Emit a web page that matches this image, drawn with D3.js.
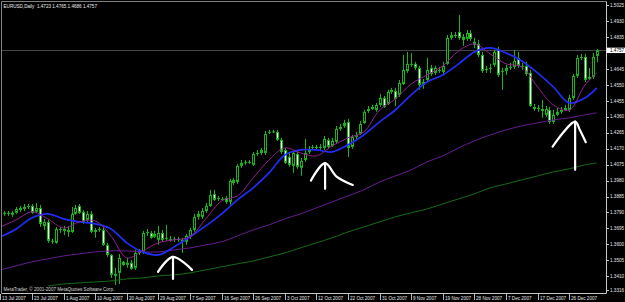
<!DOCTYPE html>
<html>
<head>
<meta charset="utf-8">
<script src="https://cdnjs.cloudflare.com/ajax/libs/d3/7.8.5/d3.min.js"></script>
<style>
html, body { margin: 0; padding: 0; background: #000; }
svg { display: block; }
</style>
</head>
<body>
<svg id="chart" width="625" height="302"></svg>
<script>
// daily EURUSD candles, 13 Jul 2007 .. 2 Jan 2008
const opens = [
    1.3782, 1.3788, 1.3782, 1.3776, 1.3788, 1.3805, 1.3811, 1.3823, 1.3829, 1.3794,
    1.3817, 1.3710, 1.3734, 1.3621, 1.3609, 1.3692, 1.3680, 1.3686, 1.3674, 1.3782,
    1.3829, 1.3794, 1.3746, 1.3782, 1.3674, 1.3686, 1.3686, 1.3597, 1.3537, 1.3412,
    1.3430, 1.3496, 1.3478, 1.3490, 1.3460, 1.3549, 1.3555, 1.3668, 1.3668, 1.3645,
    1.3627, 1.3668, 1.3633, 1.3633, 1.3627, 1.3633, 1.3627, 1.3615, 1.3645, 1.3686,
    1.3764, 1.3764, 1.3799, 1.3829, 1.3901, 1.3871, 1.3871, 1.3877, 1.3853, 1.3984,
    1.3972, 1.4068, 1.4086, 1.4086, 1.4074, 1.4139, 1.4163, 1.4145, 1.4264, 1.4270,
    1.4270, 1.4223, 1.4163, 1.4121, 1.4068, 1.4139, 1.4056, 1.4103, 1.4151, 1.4175,
    1.4181, 1.4175, 1.4175, 1.4223, 1.4187, 1.4211, 1.4288, 1.4306, 1.4330, 1.4181,
    1.4241, 1.4258, 1.4324, 1.4395, 1.4407, 1.4401, 1.4431, 1.4473, 1.4437, 1.4509,
    1.4515, 1.4491, 1.4556, 1.4634, 1.4676, 1.4676, 1.4652, 1.4550, 1.4580, 1.4652,
    1.4622, 1.4640, 1.4628, 1.4676, 1.4831, 1.4842, 1.4866, 1.4837, 1.4825, 1.4860,
    1.4807, 1.4795, 1.4729, 1.4640, 1.4646, 1.4670, 1.4759, 1.4628, 1.4634, 1.4652,
    1.4658, 1.4711, 1.4664, 1.4664, 1.4622, 1.4419, 1.4407, 1.4407, 1.4372, 1.4401,
    1.4330, 1.4372, 1.4390, 1.4401, 1.4401, 1.4473, 1.4604, 1.4711, 1.4717, 1.4586,
    1.4598, 1.4723
];
const highs = [
    1.3805, 1.3799, 1.3799, 1.3799, 1.3823, 1.3829, 1.3841, 1.3841, 1.3841, 1.3847,
    1.3835, 1.3752, 1.3746, 1.3633, 1.3704, 1.3704, 1.3710, 1.3710, 1.3823, 1.3835,
    1.3841, 1.3805, 1.3799, 1.3799, 1.3698, 1.3704, 1.3704, 1.3609, 1.3543, 1.3460,
    1.3543, 1.3501, 1.3519, 1.3507, 1.3567, 1.3573, 1.3680, 1.3692, 1.3680, 1.3680,
    1.3710, 1.3686, 1.3716, 1.3650, 1.3645, 1.3645, 1.3639, 1.3662, 1.3698, 1.3782,
    1.3799, 1.3817, 1.3847, 1.3925, 1.3925, 1.3889, 1.3883, 1.3889, 1.3990, 1.3996,
    1.4080, 1.4103, 1.4103, 1.4103, 1.4151, 1.4163, 1.4175, 1.4276, 1.4282, 1.4282,
    1.4282, 1.4235, 1.4175, 1.4145, 1.4157, 1.4157, 1.4115, 1.4229, 1.4187, 1.4193,
    1.4193, 1.4199, 1.4246, 1.4235, 1.4235, 1.4306, 1.4318, 1.4342, 1.4348, 1.4252,
    1.4270, 1.4336, 1.4401, 1.4425, 1.4431, 1.4443, 1.4497, 1.4485, 1.4521, 1.4533,
    1.4533, 1.4580, 1.4729, 1.4747, 1.4741, 1.4688, 1.4664, 1.4586, 1.4711, 1.4670,
    1.4664, 1.4658, 1.4688, 1.4848, 1.4866, 1.4866, 1.4968, 1.4854, 1.4878, 1.4878,
    1.4831, 1.4819, 1.4747, 1.4664, 1.4676, 1.4759, 1.4777, 1.4652, 1.4670, 1.4682,
    1.4759, 1.4747, 1.4682, 1.4688, 1.4640, 1.4437, 1.4431, 1.4461, 1.4425, 1.4419,
    1.4401, 1.4413, 1.4419, 1.4431, 1.4491, 1.4616, 1.4729, 1.4735, 1.4735, 1.4652,
    1.4741, 1.4765
];
const lows = [
    1.3770, 1.3770, 1.3770, 1.3764, 1.3782, 1.3794, 1.3799, 1.3811, 1.3782, 1.3788,
    1.3704, 1.3686, 1.3609, 1.3603, 1.3603, 1.3668, 1.3656, 1.3645, 1.3668, 1.3776,
    1.3782, 1.3722, 1.3734, 1.3668, 1.3639, 1.3674, 1.3591, 1.3525, 1.3400, 1.3358,
    1.3364, 1.3472, 1.3460, 1.3448, 1.3448, 1.3537, 1.3543, 1.3650, 1.3633, 1.3639,
    1.3597, 1.3615, 1.3621, 1.3615, 1.3615, 1.3615, 1.3549, 1.3597, 1.3633, 1.3674,
    1.3746, 1.3752, 1.3788, 1.3823, 1.3859, 1.3859, 1.3859, 1.3841, 1.3835, 1.3954,
    1.3960, 1.4056, 1.4074, 1.4080, 1.4068, 1.4127, 1.4133, 1.4133, 1.4258, 1.4264,
    1.4217, 1.4139, 1.4080, 1.4062, 1.4026, 1.4050, 1.4008, 1.4092, 1.4139, 1.4163,
    1.4163, 1.4157, 1.4163, 1.4169, 1.4181, 1.4199, 1.4276, 1.4294, 1.4121, 1.4169,
    1.4223, 1.4252, 1.4318, 1.4384, 1.4401, 1.4390, 1.4419, 1.4413, 1.4431, 1.4497,
    1.4425, 1.4479, 1.4550, 1.4622, 1.4658, 1.4640, 1.4521, 1.4527, 1.4568, 1.4604,
    1.4610, 1.4622, 1.4616, 1.4670, 1.4819, 1.4831, 1.4819, 1.4783, 1.4813, 1.4813,
    1.4771, 1.4717, 1.4622, 1.4622, 1.4622, 1.4658, 1.4598, 1.4521, 1.4610, 1.4640,
    1.4646, 1.4652, 1.4640, 1.4604, 1.4419, 1.4395, 1.4390, 1.4354, 1.4360, 1.4318,
    1.4318, 1.4366, 1.4378, 1.4395, 1.4390, 1.4461, 1.4592, 1.4699, 1.4568, 1.4580,
    1.4586, 1.4686
];
const closes = [
    1.3794, 1.3782, 1.3788, 1.3788, 1.3811, 1.3817, 1.3823, 1.3829, 1.3788, 1.3817,
    1.3722, 1.3734, 1.3621, 1.3615, 1.3692, 1.3686, 1.3692, 1.3674, 1.3782, 1.3817,
    1.3788, 1.3734, 1.3782, 1.3674, 1.3686, 1.3692, 1.3597, 1.3537, 1.3418, 1.3424,
    1.3519, 1.3478, 1.3490, 1.3454, 1.3549, 1.3555, 1.3668, 1.3674, 1.3639, 1.3662,
    1.3668, 1.3627, 1.3639, 1.3627, 1.3633, 1.3627, 1.3615, 1.3650, 1.3686, 1.3764,
    1.3782, 1.3799, 1.3829, 1.3895, 1.3865, 1.3877, 1.3868, 1.3853, 1.3978, 1.3966,
    1.4068, 1.4086, 1.4089, 1.4092, 1.4139, 1.4145, 1.4145, 1.4258, 1.4270, 1.4273,
    1.4223, 1.4151, 1.4086, 1.4074, 1.4145, 1.4062, 1.4097, 1.4145, 1.4169, 1.4181,
    1.4175, 1.4181, 1.4229, 1.4181, 1.4217, 1.4288, 1.4300, 1.4324, 1.4175, 1.4241,
    1.4252, 1.4318, 1.4390, 1.4407, 1.4419, 1.4431, 1.4473, 1.4419, 1.4509, 1.4521,
    1.4467, 1.4562, 1.4640, 1.4676, 1.4670, 1.4652, 1.4550, 1.4568, 1.4640, 1.4616,
    1.4652, 1.4634, 1.4664, 1.4831, 1.4848, 1.4848, 1.4831, 1.4819, 1.4860, 1.4825,
    1.4789, 1.4729, 1.4634, 1.4646, 1.4652, 1.4747, 1.4610, 1.4634, 1.4652, 1.4658,
    1.4693, 1.4664, 1.4658, 1.4616, 1.4425, 1.4407, 1.4413, 1.4395, 1.4407, 1.4330,
    1.4372, 1.4390, 1.4401, 1.4413, 1.4473, 1.4604, 1.4711, 1.4717, 1.4580, 1.4598,
    1.4717, 1.4757
];

// moving averages, read every 4th bar
const maBars = [0, 4, 8, 12, 16, 20, 24, 28, 32, 36, 40, 44, 48, 52, 56, 60, 64, 68, 72, 76,
    80, 84, 88, 92, 96, 100, 104, 108, 112, 116, 120, 124, 128, 132, 136, 140, 144, 148, 151];
const fastMA = [1.3704, 1.3746, 1.3794, 1.3752, 1.3698, 1.3734, 1.3740, 1.3650, 1.3519, 1.3561,
    1.3609, 1.3627, 1.3645, 1.3752, 1.3859, 1.3889, 1.3996, 1.4103, 1.4175, 1.4145,
    1.4127, 1.4187, 1.4235, 1.4270, 1.4401, 1.4467, 1.4556, 1.4610, 1.4664, 1.4753,
    1.4795, 1.4735, 1.4676, 1.4658, 1.4538, 1.4431, 1.4401, 1.4550, 1.4622];
const blueMA = [1.3645, 1.3692, 1.3758, 1.3782, 1.3752, 1.3734, 1.3722, 1.3692, 1.3609, 1.3555,
    1.3537, 1.3585, 1.3645, 1.3710, 1.3782, 1.3865, 1.3937, 1.4026, 1.4133, 1.4163,
    1.4163, 1.4151, 1.4193, 1.4252, 1.4330, 1.4401, 1.4491, 1.4568, 1.4610, 1.4676,
    1.4747, 1.4771, 1.4741, 1.4693, 1.4622, 1.4538, 1.4443, 1.4473, 1.4533];
const slowMA = [1.3448, 1.3472, 1.3496, 1.3513, 1.3531, 1.3543, 1.3555, 1.3561, 1.3561, 1.3555,
    1.3555, 1.3567, 1.3579, 1.3597, 1.3615, 1.3650, 1.3686, 1.3716, 1.3752, 1.3782,
    1.3817, 1.3853, 1.3889, 1.3925, 1.3972, 1.4008, 1.4044, 1.4092, 1.4127, 1.4175,
    1.4217, 1.4252, 1.4282, 1.4306, 1.4324, 1.4342, 1.4354, 1.4372, 1.4384];
const longBars = maBars.slice(3);
const longMA = [1.3352, 1.3364, 1.3370, 1.3376, 1.3382, 1.3394, 1.3400, 1.3412, 1.3418, 1.3430,
    1.3448, 1.3466, 1.3484, 1.3501, 1.3525, 1.3549, 1.3579, 1.3609, 1.3639, 1.3674,
    1.3704, 1.3734, 1.3764, 1.3788, 1.3811, 1.3841, 1.3871, 1.3901, 1.3937, 1.3960,
    1.3984, 1.4008, 1.4032, 1.4050, 1.4074, 1.4086];

const priceTicks = [1.5025, 1.4930, 1.4835, 1.4645, 1.4550, 1.4455, 1.4360, 1.4265, 1.4170,
    1.4075, 1.3980, 1.3885, 1.3790, 1.3695, 1.3600, 1.3505, 1.3410, 1.3316];
const dateLabels = ['13 Jul 2007', '23 Jul 2007', '1 Aug 2007', '10 Aug 2007', '20 Aug 2007',
    '29 Aug 2007', '7 Sep 2007', '16 Sep 2007', '26 Sep 2007', '3 Oct 2007', '12 Oct 2007',
    '22 Oct 2007', '31 Oct 2007', '9 Nov 2007', '19 Nov 2007', '28 Nov 2007', '7 Dec 2007',
    '17 Dec 2007', '26 Dec 2007'];
const barsPerLabel = 8;
const lastPrice = 1.4757;
const title = 'EURUSD,Daily  1.4723 1.4765 1.4686 1.4757';
const copyright = 'MetaTrader, \u00a9 2001-2007 MetaQuotes Software Corp.';

// hand drawn arrows, [bar, price]
const arrows = [
    [[[43.7, 1.3394], [43.7, 1.3525]], [[39.9, 1.3436], [43.7, 1.3525], [48.5, 1.3448]]],
    [[[82.2, 1.3931], [82.2, 1.4084]], [[78.6, 1.3980], [82.2, 1.4084], [85.1, 1.4004], [89.2, 1.3954]]],
    [[[145.5, 1.4044], [145.5, 1.4332]], [[139.8, 1.4183], [145.5, 1.4332], [146.7, 1.4282], [148.2, 1.4209]]]
];

const svg = d3.select('#chart');
const plot = { left: 1.5, right: 606, top: 1.5, bottom: 293 };
const font = '"Liberation Sans", Arial, sans-serif';
const green = '#1cb41c';

const n = closes.length;
const x = d3.scaleLinear().domain([0, n - 1]).range([0.4, 0.4 + 3.95 * (n - 1)]);
const y = d3.scaleLinear().domain([1.3316, 1.5025]).range([292, 5.3]);

svg.append('rect').attr('width', 625).attr('height', 302).attr('fill', '#000');

svg.append('clipPath').attr('id', 'clip')
    .append('rect')
    .attr('x', plot.left).attr('y', plot.top)
    .attr('width', plot.right - plot.left).attr('height', plot.bottom - plot.top);

const g = svg.append('g').attr('clip-path', 'url(#clip)');

// last price dotted line
g.append('line')
    .attr('x1', plot.left).attr('x2', plot.right)
    .attr('y1', Math.round(y(lastPrice)) + 0.5).attr('y2', Math.round(y(lastPrice)) + 0.5)
    .attr('stroke', '#8c8c8c')
    .attr('stroke-dasharray', '1,1');

// candles
const bars = d3.range(n).map(i => ({ i, o: opens[i], h: highs[i], l: lows[i], c: closes[i] }));
const cx = d => Math.round(x(d.i)) + 0.5;

g.selectAll('.wick').data(bars).enter()
    .append('line')
    .attr('class', 'wick')
    .attr('x1', cx).attr('x2', cx)
    .attr('y1', d => y(d.h)).attr('y2', d => y(d.l))
    .attr('stroke', green);

g.selectAll('.body').data(bars).enter()
    .append('rect')
    .attr('class', 'body')
    .attr('x', d => cx(d) - 1)
    .attr('width', 2)
    .attr('y', d => y(Math.max(d.o, d.c)) + 0.5)
    .attr('height', d => Math.max(0.01, Math.abs(y(d.o) - y(d.c)) - 1))
    .attr('fill', d => d.c >= d.o ? '#000' : '#fff')
    .attr('stroke', green)
    .attr('stroke-width', 1);

// moving averages
const maLine = idx => d3.line()
    .x((d, k) => x(idx[k]))
    .y(d => y(d))
    .curve(d3.curveCatmullRom.alpha(0.5));

g.append('path').datum(longMA).attr('d', maLine(longBars))
    .attr('fill', 'none').attr('stroke', '#176a19').attr('stroke-width', 1);
g.append('path').datum(slowMA).attr('d', maLine(maBars))
    .attr('fill', 'none').attr('stroke', '#661c90').attr('stroke-width', 1);
g.append('path').datum(blueMA).attr('d', maLine(maBars))
    .attr('fill', 'none').attr('stroke', '#1f2ef5').attr('stroke-width', 1.7);
g.append('path').datum(fastMA).attr('d', maLine(maBars))
    .attr('fill', 'none').attr('stroke', '#951e95').attr('stroke-width', 1);

// arrows
const arrowLine = d3.line().x(d => x(d[0])).y(d => y(d[1])).curve(d3.curveCatmullRom.alpha(0.5));
arrows.forEach(a => {
    a.forEach(part => {
        g.append('path').attr('d', arrowLine(part))
            .attr('fill', 'none').attr('stroke', '#fff')
            .attr('stroke-width', 2.2).attr('stroke-linecap', 'round').attr('stroke-linejoin', 'round');
    });
});

// frame
svg.append('path')
    .attr('d', `M${plot.left},${plot.bottom}V${plot.top}H${plot.right}`)
    .attr('fill', 'none').attr('stroke', '#808080');
svg.append('path')
    .attr('d', `M${plot.left},${plot.bottom + 0.5}H${plot.right + 0.5}V${plot.top}`)
    .attr('fill', 'none').attr('stroke', '#c8c8c8');

// price axis
const yAxis = svg.append('g');
priceTicks.forEach(v => {
    const ty = Math.min(290, y(v));
    yAxis.append('line')
        .attr('x1', plot.right + 0.5).attr('x2', plot.right + 3)
        .attr('y1', Math.round(ty) + 0.5).attr('y2', Math.round(ty) + 0.5)
        .attr('stroke', '#c8c8c8');
    yAxis.append('text')
        .attr('x', plot.right + 4).attr('y', ty)
        .attr('dy', '0.35em')
        .attr('fill', '#e6e6e6')
        .attr('font-family', font).attr('font-size', 4.6)
        .text(v.toFixed(4));
});

// last price marker
const ly = y(lastPrice);
yAxis.append('rect')
    .attr('x', plot.right + 0.5).attr('y', ly - 2.6)
    .attr('width', 19).attr('height', 5.4)
    .attr('fill', '#fff');
yAxis.append('text')
    .attr('x', plot.right + 4).attr('y', ly)
    .attr('dy', '0.35em')
    .attr('fill', '#000')
    .attr('font-family', font).attr('font-size', 4.6)
    .text(lastPrice.toFixed(4));

// date axis
const xAxis = svg.append('g');
dateLabels.forEach((label, k) => {
    const tx = Math.round(x(k * barsPerLabel)) + 0.5;
    xAxis.append('line')
        .attr('x1', tx).attr('x2', tx)
        .attr('y1', plot.bottom + 1).attr('y2', 300)
        .attr('stroke', '#b4b4b4');
    xAxis.append('text')
        .attr('x', tx + 1.5).attr('y', 299.5)
        .attr('fill', '#e6e6e6')
        .attr('font-family', font).attr('font-size', 4.6)
        .text(label);
});

// texts
svg.append('text')
    .attr('x', 3.5).attr('y', 7.5)
    .attr('fill', '#ececec')
    .attr('font-family', font).attr('font-size', 4.6)
    .attr('xml:space', 'preserve')
    .text(title);
svg.append('text')
    .attr('x', 3.5).attr('y', 290.5)
    .attr('fill', '#d8d8d8')
    .attr('font-family', font).attr('font-size', 4.6)
    .text(copyright);
</script>
</body>
</html>
